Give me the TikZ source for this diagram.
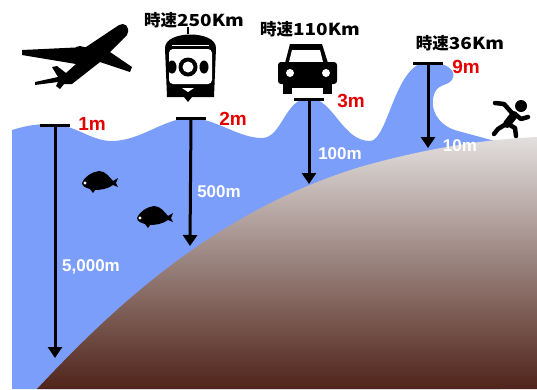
\documentclass[tikz,border=0pt]{standalone}
\usepackage{fontspec}
\usepackage{graphicx}
\newfontfamily\jpfont{Noto Sans CJK JP}
\newfontfamily\labelfont{Liberation Sans}
\usetikzlibrary{arrows.meta}

\definecolor{sea}{RGB}{123,158,250}
\definecolor{seabed}{RGB}{80,36,26}
\definecolor{seamid}{RGB}{155,130,124}
\definecolor{shore}{RGB}{226,223,222}
\definecolor{heightred}{RGB}{228,0,0}

\tikzset{
  fish/.pic={
    \fill[black] (0,0) .. controls (3,-7) and (10,-11) .. (17,-12)
      .. controls (24,-12) and (28,-5) .. (31,-2)
      -- (36,-5) -- (34,0) -- (36,4) -- (31,2)
      .. controls (26,6) and (18,7) .. (13,7) -- (11,10) -- (8,6)
      .. controls (4,5) and (0,3) .. (0,0) -- cycle;
    \fill[white] (3,0) circle (1.6);
  }
}

\begin{document}
\begin{tikzpicture}[x=1pt, y=-1pt,
    bar/.style={fill=black, inner sep=0pt, minimum width=30pt, minimum height=3pt},
    depth/.style={line width=3pt, -{Triangle[width=14pt,length=11pt]}},
    height/.style={text=heightred, font=\labelfont\bfseries\fontsize{19}{19}\selectfont},
    dist/.style={text=white, font=\labelfont\bfseries\fontsize{17}{17}\selectfont},
    speed/.style={font=\jpfont\bfseries\fontsize{16.5}{16.5}\selectfont}]

    \useasboundingbox (0,0) rectangle (537,389);

    % Sea with the waves
    \fill[sea] (12,389) -- (12,130)
        .. controls (25,126) and (35,124) .. (50,124)
        .. controls (75,124) and (90,141) .. (112,141)
        .. controls (140,141) and (165,118) .. (190,118)
        .. controls (215,118) and (238,138) .. (262,138)
        .. controls (282,138) and (285,98) .. (309,98)
        .. controls (333,98) and (342,141) .. (370,141)
        .. controls (388,141) and (395,62) .. (428,62)
        .. controls (445,62) and (458,70) .. (452,80)
        .. controls (448,86) and (440,83) .. (435,92)
        .. controls (428,108) and (438,126) .. (458,131)
        -- (495,141) -- (500,389) -- cycle;

    % Seabed
    \shade[top color=shore, middle color=seamid, bottom color=seabed]
        (37,389) .. controls (120,300) and (220,210) .. (360,167)
        .. controls (430,147) and (490,139) .. (537,137)
        -- (537,389) -- cycle;

    % Fish
    \pic at (82,183) {fish};
    \pic at (137,218) {fish};

    % Airplane
    \fill[black] (119,25) .. controls (124,22) and (131,26) .. (127,35)
        -- (110,52) -- (132,67) -- (130,72) -- (100,62)
        -- (72,84) -- (64,84) -- (60,89) -- (56,86) -- (58,82)
        -- (35,85) -- (35,82) -- (58,77) -- (52,67) -- (57,66) -- (66,73)
        -- (76,64) -- (22,55) -- (22,50) -- (86,47) -- cycle;
    \fill[black] (80,49) ellipse (5 and 3);
    \fill[black] (112,61) ellipse (5 and 3);

    % Train
    \fill[black] (167,97) -- (165,48) .. controls (165,30) and (216,30) .. (216,48)
        -- (214,97) -- (192,97) -- (188,102) -- (184,97) -- cycle;
    \draw[black, line width=1.2pt] (188,27) -- (188,34);
    \fill[white, rounded corners=4pt] (169,49) rectangle (212,84);
    \draw[white, line width=1pt] (172,45) -- (209,45);
    \fill[white] (182,88) -- (194,88) -- (188,92) -- cycle;
    \fill[black] (172,67) ellipse (4.5 and 6.5);
    \fill[black] (204,67) ellipse (4.5 and 6.5);
    \fill[black] (188,67) circle (9.5);
    \fill[white] (188,67) circle (5.5);

    % Car
    \fill[black] (285,63) -- (290,44) -- (322,44) -- (328,63) -- cycle;
    \fill[white] (292,50) -- (320,50) -- (323,62) -- (289,62) -- cycle;
    \fill[black, rounded corners=3pt] (278,62) rectangle (337,84);
    \fill[black] (283,84) rectangle (332,88);
    \fill[black] (283,86) rectangle (292,94);
    \fill[black] (323,86) rectangle (332,94);
    \fill[white] (290,73) circle (4);
    \fill[white] (326,73) circle (4);

    % Runner on the shore
    \fill[black] (521,106) circle (6);
    \draw[black, line width=8pt, line cap=round] (514,115) -- (507,124);
    \draw[black, line width=4.5pt, line cap=round, line join=round]
        (512,113) -- (504,104) -- (495,103)
        (516,115) -- (521,119) -- (528,117)
        (506,124) -- (498,129) -- (494,134)
        (508,124) -- (515,128) -- (516,136);

    % Depth arrows
    \node[bar] (t1) at (55,125) {};
    \node[bar] (t2) at (191,118) {};
    \node[bar] (t3) at (309,99) {};
    \node[bar] (t4) at (428,63) {};
    \coordinate (b1) at (55,358);
    \coordinate (b2) at (190,246);
    \coordinate (b3) at (309,184);
    \coordinate (b4) at (428,148);
    \draw[depth] (t1.center) -- (b1);
    \draw[depth] (t2.center) -- (b2);
    \draw[depth] (t3.center) -- (b3);
    \draw[depth] (t4.center) -- (b4);

    % Wave heights
    \node[height] (h1) at (92,124) {1m};
    \node[height] (h2) at (233,119) {2m};
    \node[height] (h3) at (351,101) {3m};
    \node[height] (h4) at (466,67) {9m};

    % Sea depths
    \node[dist] (d1) at (91,267) {5,000m};
    \node[dist] (d2) at (219,192) {500m};
    \node[dist] (d3) at (340,154) {100m};
    \node[dist] (d4) at (460,146) {10m};

    % Speeds
    \node[speed] (s1) at (194,20) {時速\scalebox{1.15}[1]{250Km}};
    \node[speed] (s2) at (310,29) {時速\scalebox{1.15}[1]{110Km}};
    \node[speed] (s3) at (460,43) {時速\scalebox{1.15}[1]{36Km}};

\end{tikzpicture}
\end{document}
